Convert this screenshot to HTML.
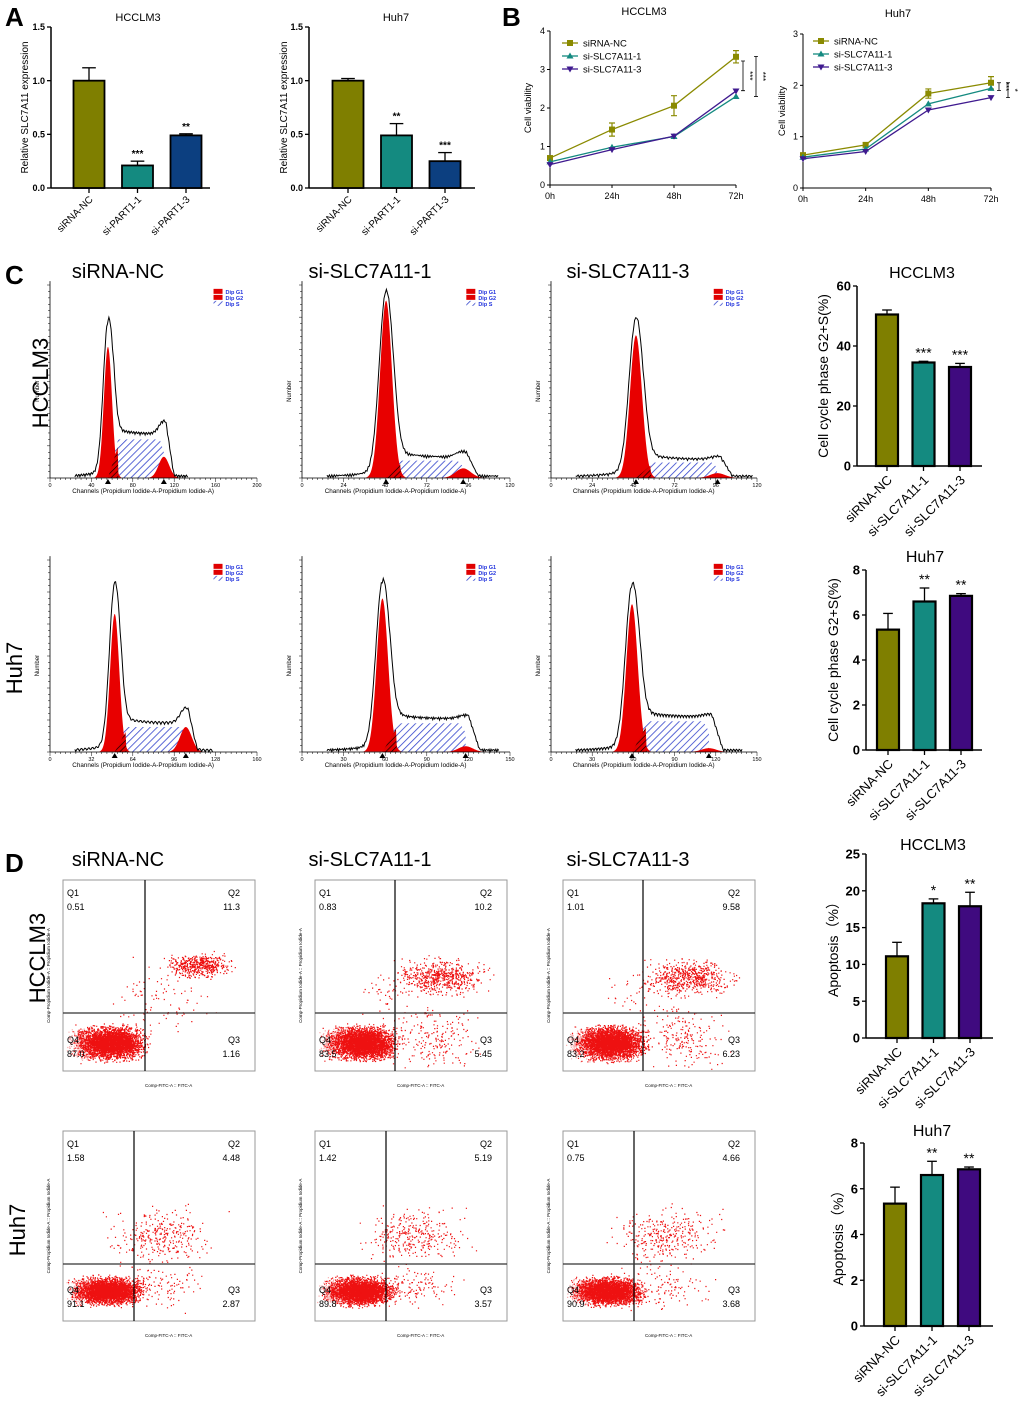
<!DOCTYPE html>
<html><head><meta charset="utf-8"><style>
body{margin:0;background:#fff}
svg{display:block;font-family:"Liberation Sans",Arial,sans-serif}
</style></head><body>
<svg id="fig" width="1020" height="1409" viewBox="0 0 1020 1409" xmlns="http://www.w3.org/2000/svg">
<defs>
<pattern id="hatchB" patternUnits="userSpaceOnUse" width="5" height="5" patternTransform="rotate(45)"><rect width="5" height="5" fill="#fff"/><line x1="0" y1="0" x2="0" y2="5" stroke="#3344cc" stroke-width="1.6"/></pattern>
<pattern id="hatchK" patternUnits="userSpaceOnUse" width="4" height="4" patternTransform="rotate(45)"><rect width="4" height="4" fill="#e00000"/><line x1="0" y1="0" x2="0" y2="4" stroke="#000" stroke-width="1.3"/></pattern>
</defs>
<g id="root"></g>
</svg>
<script>
// ---------- Panel A data ----------
const aCats = ["siRNA-NC","si-PART1-1","si-PART1-3"];
const aHccVals = [1.0, 0.21, 0.49];
const aHccErr = [0.12, 0.04, 0.015];
const aHccStars = ["", "***", "**"];
const aHuhVals = [1.0, 0.49, 0.25];
const aHuhErr = [0.02, 0.11, 0.08];
const aHuhStars = ["", "**", "***"];
const aTicks = [0, 0.5, 1.0, 1.5];
// ---------- Panel B data ----------
const bTimes = ["0h","24h","48h","72h"];
const bSeriesNames = ["siRNA-NC","si-SLC7A11-1","si-SLC7A11-3"];
const bHccNC = [0.70, 1.44, 2.06, 3.33];
const bHccS1 = [0.60, 0.98, 1.26, 2.30];
const bHccS3 = [0.53, 0.92, 1.27, 2.44];
const bHccErr = [0.05, 0.17, 0.26, 0.16];
const bHuhNC = [0.64, 0.84, 1.84, 2.05];
const bHuhS1 = [0.60, 0.76, 1.64, 1.94];
const bHuhS3 = [0.57, 0.71, 1.52, 1.76];
const bHuhErr = [0.03, 0.04, 0.09, 0.12];
const bHccTicks = [0,1,2,3,4];
const bHuhTicks = [0,1,2,3];
// ---------- Panel C/D bar data ----------
const sCats = ["siRNA-NC","si-SLC7A11-1","si-SLC7A11-3"];
const cHccVals = [50.5, 34.5, 33.0];
const cHccErr = [1.5, 0.4, 1.2];
const cHccStars = ["", "***", "***"];
const cHuhVals = [5.35, 6.6, 6.85];
const cHuhErr = [0.72, 0.6, 0.1];
const cHuhStars = ["", "**", "**"];
const dHccVals = [11.1, 18.3, 17.9];
const dHccErr = [1.9, 0.6, 1.9];
const dHccStars = ["", "*", "**"];
const dHuhVals = [5.35, 6.6, 6.85];
const dHuhErr = [0.72, 0.6, 0.1];
const dHuhStars = ["", "**", "**"];
// ---------- Quadrant percentages ----------
const qHcc = [["0.51","11.3","1.16","87.0"],["0.83","10.2","5.45","83.5"],["1.01","9.58","6.23","83.2"]];
const qHuh = [["1.58","4.48","2.87","91.1"],["1.42","5.19","3.57","89.8"],["0.75","4.66","3.68","90.9"]];

const NS="http://www.w3.org/2000/svg";
const root=document.getElementById('root');
function el(tag,attrs,parent,txt){const e=document.createElementNS(NS,tag);for(const k in attrs)e.setAttribute(k,attrs[k]);if(txt!==undefined)e.textContent=txt;(parent||root).appendChild(e);return e;}
function grp(name,parent){const g=el('g',{},parent);return g;}
function txt(parent,name,x,y,s,o){const t=el('text',Object.assign({x:x,y:y},o||{}),parent,s);return t;}

// ---------- generic bar chart ----------
function barChart(name,cfg){
  const g=grp(name);
  const ys=v=>cfg.y0-(v/cfg.max)*(cfg.y0-cfg.yTop);
  el('line',{x1:cfg.ax,y1:cfg.yTop,x2:cfg.ax,y2:cfg.y0,stroke:'#000','stroke-width':1.5},g);
  el('line',{x1:cfg.ax,y1:cfg.y0,x2:cfg.xEnd,y2:cfg.y0,stroke:'#000','stroke-width':1.5},g);
  cfg.ticks.forEach(t=>{const y=ys(t);el('line',{x1:cfg.ax-4,y1:y,x2:cfg.ax,y2:y,stroke:'#000','stroke-width':1.3},g);
    txt(g,'y-tick-label',cfg.ax-6,y+cfg.tf*0.35,cfg.tfmt(t),{'font-size':cfg.tf,'font-weight':'bold','text-anchor':'end'});});
  cfg.vals.forEach((v,i)=>{
    const cx=cfg.c0+i*cfg.step, y=ys(v);
    const r=el('rect',{x:cx-cfg.bw/2,y:y,width:cfg.bw,height:cfg.y0-y,fill:cfg.colors[i],stroke:'#000','stroke-width':cfg.sw},g);
    
    const ye=ys(v+cfg.errs[i]);
    el('line',{x1:cx,y1:y,x2:cx,y2:ye,stroke:'#000','stroke-width':1.3},g);
    el('line',{x1:cx-cfg.bw*0.22,y1:ye,x2:cx+cfg.bw*0.22,y2:ye,stroke:'#000','stroke-width':1.3},g);
    el('line',{x1:cx,y1:cfg.y0,x2:cx,y2:cfg.y0+5,stroke:'#000','stroke-width':1.3},g);
    if(cfg.stars[i]) txt(g,'significance-marker',cx,ye-4,cfg.stars[i],{'font-size':cfg.sf,'text-anchor':'middle','font-weight':cfg.small?'bold':'normal'});
    const lx=cx+cfg.cf*0.45, ly=cfg.y0+cfg.cf*0.9+3;
    txt(g,'x-tick-label',lx,ly,cfg.cats[i],{'font-size':cfg.cf,'text-anchor':'end',transform:`rotate(-45 ${lx} ${ly})`});
  });
  if(cfg.title) txt(g,'chart-title',cfg.tx,cfg.ty,cfg.title,{'font-size':cfg.titf,'text-anchor':'middle'});
  txt(g,'y-axis-title',cfg.lx,(cfg.yTop+cfg.y0)/2,cfg.ylab,{'font-size':cfg.lf,'text-anchor':'middle',transform:`rotate(-90 ${cfg.lx} ${(cfg.yTop+cfg.y0)/2})`});
}
const colA=['#7f7f00','#148a80','#0c3f80'];
const colS=['#7f7f00','#148a80','#3f0a7f'];
const fmt1=t=>t.toFixed(1), fmt0=t=>String(t);
barChart('bar-chart-a-hcclm3',{ax:51,yTop:27,y0:188,xEnd:210,max:1.5,ticks:aTicks,tfmt:fmt1,tf:9,vals:aHccVals,errs:aHccErr,stars:aHccStars,cats:aCats,colors:colA,c0:89,step:48.5,bw:31,sw:1.8,sf:10,small:true,cf:10,title:'HCCLM3',tx:138,ty:21,titf:11,ylab:'Relative SLC7A11 expression',lx:28,lf:10});
barChart('bar-chart-a-huh7',{ax:309,yTop:27,y0:188,xEnd:475,max:1.5,ticks:aTicks,tfmt:fmt1,tf:9,vals:aHuhVals,errs:aHuhErr,stars:aHuhStars,cats:aCats,colors:colA,c0:348,step:48.5,bw:31,sw:1.8,sf:10,small:true,cf:10,title:'Huh7',tx:396,ty:21,titf:11,ylab:'Relative SLC7A11 expression',lx:287,lf:10});
barChart('bar-chart-c-hcclm3',{ax:857,yTop:286,y0:466,xEnd:982,max:60,ticks:[0,20,40,60],tfmt:fmt0,tf:13,vals:cHccVals,errs:cHccErr,stars:cHccStars,cats:sCats,colors:colS,c0:887,step:36.5,bw:22,sw:2.2,sf:14,cf:13,title:'HCCLM3',tx:922,ty:278,titf:16,ylab:'Cell cycle phase G2+S(%)',lx:828,lf:14});
barChart('bar-chart-c-huh7',{ax:866,yTop:570,y0:750,xEnd:982,max:8,ticks:[0,2,4,6,8],tfmt:fmt0,tf:13,vals:cHuhVals,errs:cHuhErr,stars:cHuhStars,cats:sCats,colors:colS,c0:888,step:36.5,bw:22,sw:2.2,sf:14,cf:13,title:'Huh7',tx:925,ty:562,titf:16,ylab:'Cell cycle phase G2+S(%)',lx:838,lf:14});
barChart('bar-chart-d-hcclm3',{ax:866,yTop:854,y0:1038,xEnd:993,max:25,ticks:[0,5,10,15,20,25],tfmt:fmt0,tf:13,vals:dHccVals,errs:dHccErr,stars:dHccStars,cats:sCats,colors:colS,c0:897,step:36.5,bw:22,sw:2.2,sf:14,cf:13,title:'HCCLM3',tx:933,ty:850,titf:16,ylab:'Apoptosis（%）',lx:838,lf:14});
barChart('bar-chart-d-huh7',{ax:864,yTop:1143,y0:1326,xEnd:993,max:8,ticks:[0,2,4,6,8],tfmt:fmt0,tf:13,vals:dHuhVals,errs:dHuhErr,stars:dHuhStars,cats:sCats,colors:colS,c0:895,step:37,bw:22,sw:2.2,sf:14,cf:13,title:'Huh7',tx:932,ty:1136,titf:16,ylab:'Apoptosis（%）',lx:843,lf:14});

// ---------- line charts ----------
function lineChart(name,cfg){
  const g=grp(name);
  const xs=i=>cfg.ax+i*(cfg.xEnd-cfg.ax)/3, ys=v=>cfg.y0-(v/cfg.max)*(cfg.y0-cfg.yTop);
  el('line',{x1:cfg.ax,y1:cfg.yTop,x2:cfg.ax,y2:cfg.y0,stroke:'#000','stroke-width':1},g);
  el('line',{x1:cfg.ax,y1:cfg.y0,x2:cfg.xEnd,y2:cfg.y0,stroke:'#000','stroke-width':1},g);
  cfg.ticks.forEach(t=>{const y=ys(t);el('line',{x1:cfg.ax-3,y1:y,x2:cfg.ax,y2:y,stroke:'#000'},g);txt(g,'y-tick-label',cfg.ax-5,y+3,String(t),{'font-size':9,'text-anchor':'end'});});
  bTimes.forEach((t,i)=>{el('line',{x1:xs(i),y1:cfg.y0,x2:xs(i),y2:cfg.y0+3,stroke:'#000'},g);txt(g,'x-tick-label',xs(i),cfg.y0+14,t,{'font-size':9,'text-anchor':'middle'});});
  const cols=['#8a8a00','#148a80','#3f1a8f'];
  cfg.series.forEach((s,k)=>{
    const sg=grp('series-'+bSeriesNames[k],g);
    el('polyline',{points:s.map((v,i)=>xs(i)+','+ys(v)).join(' '),fill:'none',stroke:cols[k],'stroke-width':1.3},sg);
    s.forEach((v,i)=>{const x=xs(i),y=ys(v);
      if(k===0){const e=cfg.err[i];el('path',{d:`M${x},${ys(v-e)}V${ys(v+e)}M${x-3},${ys(v-e)}h6M${x-3},${ys(v+e)}h6`,stroke:cols[0],'stroke-width':1.2,fill:'none'},sg);
        el('rect',{x:x-3,y:y-3,width:6,height:6,fill:cols[0]},sg);}
      else if(k===1) el('path',{d:`M${x},${y-3.5}L${x+3.5},${y+2.5}L${x-3.5},${y+2.5}Z`,fill:cols[1]},sg);
      else el('path',{d:`M${x},${y+3.5}L${x+3.5},${y-2.5}L${x-3.5},${y-2.5}Z`,fill:cols[2]},sg);});
  });
  bSeriesNames.forEach((n,k)=>{const ly=cfg.ly+k*13;const lg=grp('legend-entry',g);
    el('line',{x1:cfg.lx,y1:ly,x2:cfg.lx+16,y2:ly,stroke:cols[k],'stroke-width':1.3},lg);
    if(k===0)el('rect',{x:cfg.lx+5,y:ly-3,width:6,height:6,fill:cols[0]},lg);
    else if(k===1)el('path',{d:`M${cfg.lx+8},${ly-3.5}l3.5,6h-7Z`,fill:cols[1]},lg);
    else el('path',{d:`M${cfg.lx+8},${ly+3.5}l3.5,-6h-7Z`,fill:cols[2]},lg);
    txt(lg,'legend-label',cfg.lx+21,ly+3.5,n,{'font-size':9.5});});
  txt(g,'chart-title',cfg.tx,cfg.ty,cfg.title,{'font-size':11,'text-anchor':'middle'});
  txt(g,'y-axis-title',cfg.ylx,(cfg.yTop+cfg.y0)/2,'Cell viability',{'font-size':9.5,'text-anchor':'middle',transform:`rotate(-90 ${cfg.ylx} ${(cfg.yTop+cfg.y0)/2})`});
  cfg.sig.forEach(s=>{el('path',{d:`M${s.x-2},${ys(s.a)}h4M${s.x},${ys(s.a)}V${ys(s.b)}M${s.x-2},${ys(s.b)}h4`,stroke:'#000','stroke-width':0.8,fill:'none'},g);
    txt(g,'significance-marker',s.x+4,(ys(s.a)+ys(s.b))/2,s.t,{'font-size':8,'text-anchor':'middle',transform:`rotate(90 ${s.x+4} ${(ys(s.a)+ys(s.b))/2})`});});
}
lineChart('line-chart-b-hcclm3',{ax:550,xEnd:736,yTop:31,y0:185,max:4,ticks:bHccTicks,series:[bHccNC,bHccS1,bHccS3],err:bHccErr,lx:562,ly:43,title:'HCCLM3',tx:644,ty:15,ylx:531,sig:[{x:743,a:3.22,b:2.45,t:'***'},{x:756,a:3.34,b:2.3,t:'***'}]});
lineChart('line-chart-b-huh7',{ax:803,xEnd:991,yTop:34,y0:188,max:3,ticks:bHuhTicks,series:[bHuhNC,bHuhS1,bHuhS3],err:bHuhErr,lx:813,ly:41,title:'Huh7',tx:898,ty:17,ylx:785,sig:[{x:999,a:2.05,b:1.9,t:'***'},{x:1008,a:2.05,b:1.76,t:'*'}]});

// ---------- flow cytometry histograms ----------
function hist(name,x0,y0,w,h,cmax,g1,g1h,outH,sH,g2,g2h,sd){
  const g=grp(name);
  const xs=c=>x0+c/cmax*w, ys=f=>y0-f*h;
  const gau=(c,m,s)=>Math.exp(-0.5*((c-m)/s)**2);
  const s1=g1*0.07;
  let ps=[];for(let c=g1;c<=g2;c+=1){const f=sH*Math.min(1,(c-g1)/(s1*2.5))*Math.min(1,(g2+s1*2-c)/(s1*3));ps.push(xs(c)+','+ys(Math.max(0,f)));}
  el('polygon',{points:`${xs(g1)},${y0} `+ps.join(' ')+` ${xs(g2)},${y0}`,fill:'url(#hatchB)'},g);
  [[g1,g1h,s1],[g2,g2h,s1*1.3]].forEach(([m,hh,s])=>{let p=[];for(let c=m-3.5*s;c<=m+3.5*s;c+=0.5)p.push(xs(c)+','+ys(hh*gau(c,m,s)));el('polygon',{points:p.join(' '),fill:'#e80000'},g);});
  el('polygon',{points:`${xs(g1)},${y0} ${xs(g1+s1*2.4)},${ys(sH*0.8)} ${xs(g1+s1*2.6)},${y0}`,fill:'url(#hatchK)'},g);
  let po=[];for(let c=cmax*0.12;c<=Math.min(cmax,g2+s1*6);c+=0.7){let f=outH*gau(c,g1,s1*1.15)+g2h*0.6*gau(c,g2,s1*1.2)+sH*1.1*Math.max(0,Math.min(1,(c-g1)/(s1*1.5),(g2+s1*2.5-c)/(s1*2)))+0.02*gau(c,g1,s1*4);
    f+=0.015*Math.abs(Math.sin(c*sd));po.push(xs(c)+','+ys(f));}
  el('polyline',{points:po.join(' '),fill:'none',stroke:'#000','stroke-width':1},g);
  el('line',{x1:x0,y1:y0-h*1.02,x2:x0,y2:y0,stroke:'#000','stroke-width':0.8},g);
  el('line',{x1:x0,y1:y0,x2:x0+w,y2:y0,stroke:'#000','stroke-width':0.8},g);
  for(let i=0;i<=40;i++){const x=x0+i*w/40;el('line',{x1:x,y1:y0,x2:x,y2:y0+(i%8?2:4),stroke:'#000','stroke-width':0.5},g);}
  for(let i=0;i<=5;i++){txt(g,'x-tick-label',x0+i*w/5,y0+9,String(Math.round(cmax*i/5)),{'font-size':5.5,'text-anchor':'middle'});}
  for(let i=0;i<=30;i++){const y=y0-i*h/30;el('line',{x1:x0-(i%5?2:3),y1:y,x2:x0,y2:y,stroke:'#000','stroke-width':0.5},g);}
  txt(g,'y-axis-title',x0-11,y0-h*0.45,'Number',{'font-size':6,'text-anchor':'middle',transform:`rotate(-90 ${x0-11} ${y0-h*0.45})`});
  txt(g,'x-axis-title',x0+w*0.45,y0+15,'Channels (Propidium Iodide-A-Propidium Iodide-A)',{'font-size':6.3,'text-anchor':'middle'});
  el('path',{d:`M${xs(g1)-3},${y0+6}l3,-5l3,5z`,fill:'#000'},g);
  el('path',{d:`M${xs(g2)-3},${y0+6}l3,-5l3,5z`,fill:'#000'},g);
  const lx=x0+w*0.79,ly=y0-h*0.98;const lg=grp('legend',g);
  el('rect',{x:lx,y:ly,width:9,height:5,fill:'#e00000'},lg);el('rect',{x:lx,y:ly+6,width:9,height:5,fill:'#e00000'},lg);el('rect',{x:lx,y:ly+12,width:9,height:5,fill:'url(#hatchB)'},lg);
  txt(lg,'legend-label',lx+12,ly+5,'Dip G1',{'font-size':5.5,fill:'#2233dd','font-weight':'bold'});
  txt(lg,'legend-label',lx+12,ly+11,'Dip G2',{'font-size':5.5,fill:'#2233dd','font-weight':'bold'});
  txt(lg,'legend-label',lx+12,ly+17,'Dip S',{'font-size':5.5,fill:'#2233dd','font-weight':'bold'});
}
hist('histogram-hcclm3-sirna-nc',50,478,207,193,200,56,0.68,0.78,0.2,110,0.11,1.3);
hist('histogram-hcclm3-si1',302,478,208,193,120,48.5,0.92,0.94,0.09,93,0.05,2.1);
hist('histogram-hcclm3-si3',551,478,206,193,120,49.5,0.74,0.80,0.08,97,0.025,1.7);
hist('histogram-huh7-sirna-nc',50,752,207,192,160,50,0.72,0.85,0.13,105,0.13,1.1);
hist('histogram-huh7-si1',302,752,208,192,150,58,0.80,0.86,0.15,118,0.03,1.9);
hist('histogram-huh7-si3',551,752,206,192,150,59,0.77,0.84,0.16,115,0.02,1.5);

// ---------- apoptosis scatter ----------
let seed=7;function rnd(){seed=(seed*16807)%2147483647;return seed/2147483647;}
function gr(){return (rnd()+rnd()+rnd()-1.5)*1.3;}
function scatter(name,x0,y0,w,h,vx,hy,q,clusters){
  const g=grp(name);
  el('rect',{x:x0,y:y0,width:w,height:h,fill:'#fff',stroke:'#999','stroke-width':1},g);
  clusters.forEach(c=>{let d='';for(let i=0;i<c.n;i++){const x=c.x+gr()*c.rx,y=c.y+gr()*c.ry;if(x>x0+2&&x<x0+w-2&&y>y0+2&&y<y0+h-2)d+=`M${x.toFixed(1)},${y.toFixed(1)}h1.2v1.2h-1.2z`;}
    el('path',{d:d,fill:'#ee1111','fill-opacity':c.op||1},g);});
  el('line',{x1:vx,y1:y0,x2:vx,y2:y0+h,stroke:'#000','stroke-width':1.2},g);
  el('line',{x1:x0,y1:hy,x2:x0+w,y2:hy,stroke:'#333','stroke-width':1.2},g);
  txt(g,'quadrant-label',x0+4,y0+16,'Q1',{'font-size':9});txt(g,'quadrant-value',x0+4,y0+30,q[0],{'font-size':9});
  txt(g,'quadrant-label',x0+w-15,y0+16,'Q2',{'font-size':9,'text-anchor':'end'});txt(g,'quadrant-value',x0+w-15,y0+30,q[1],{'font-size':9,'text-anchor':'end'});
  txt(g,'quadrant-label',x0+w-15,y0+h-28,'Q3',{'font-size':9,'text-anchor':'end'});txt(g,'quadrant-value',x0+w-15,y0+h-14,q[2],{'font-size':9,'text-anchor':'end'});
  txt(g,'quadrant-label',x0+4,y0+h-28,'Q4',{'font-size':9});txt(g,'quadrant-value',x0+4,y0+h-14,q[3],{'font-size':9});
  txt(g,'x-axis-title',x0+w*0.55,y0+h+16,'Comp-FITC-A :: FITC-A',{'font-size':4.5,'text-anchor':'middle'});
  txt(g,'y-axis-title',x0-13,y0+h/2,'Comp-Propidium Iodide-A :: Propidium Iodide-A',{'font-size':4.5,'text-anchor':'middle',transform:`rotate(-90 ${x0-13} ${y0+h/2})`});
}
const pcx=[63,315,563];
pcx.forEach((x,i)=>{
  const cl=[{x:x+48,y:1043,rx:22,ry:11,n:3500},{x:x+20,y:1043,rx:10,ry:10,n:400,op:0.35}];
  if(i===0)cl.push({x:x+137,y:965,rx:22,ry:8,n:500},{x:x+100,y:1000,rx:35,ry:25,n:90});
  else cl.push({x:x+125,y:977,rx:30,ry:12,n:600},{x:x+120,y:1040,rx:30,ry:22,n:200},{x:x+80,y:995,rx:30,ry:20,n:60});
  scatter(['scatter-hcclm3-sirna-nc','scatter-hcclm3-si1','scatter-hcclm3-si3'][i],x,880,192,191,x+(i===0?82:80),1013,qHcc[i],cl);
  const c2=[{x:x+45,y:1291,rx:22,ry:9,n:3200},{x:x+18,y:1291,rx:9,ry:8,n:300,op:0.35},{x:x+100,y:1235,rx:35,ry:18,n:320},{x:x+95,y:1285,rx:35,ry:15,n:130}];
  scatter(['scatter-huh7-sirna-nc','scatter-huh7-si1','scatter-huh7-si3'][i],x,1131,192,190,x+71,1264,qHuh[i],c2);
});

// ---------- labels ----------
const lab=grp('panel-labels');
[['A',5,26],['B',502,26],['C',5,284],['D',5,872]].forEach(([s,x,y])=>txt(lab,'panel-label-'+s.toLowerCase(),x,y,s,{'font-size':26,'font-weight':'bold'}));
[[118,278],[370,278],[628,278],[118,866],[370,866],[628,866]].forEach(([x,y],i)=>txt(lab,'column-title',x,y,sCats[i%3],{'font-size':20,'text-anchor':'middle'}));
[['HCCLM3',48,383,22],['Huh7',22,668,22],['HCCLM3',45,958,22],['Huh7',25,1230,22]].forEach(([s,x,y,f])=>txt(lab,'row-label',x,y,s,{'font-size':f,'text-anchor':'middle',transform:`rotate(-90 ${x} ${y})`}));
</script>
</body></html>
